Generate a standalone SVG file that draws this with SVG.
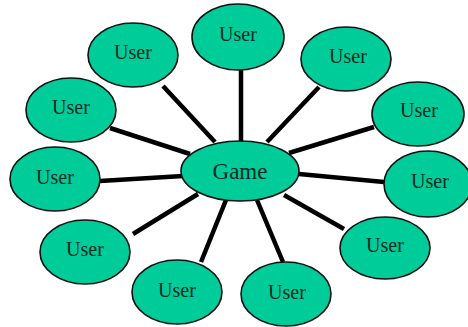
<svg xmlns="http://www.w3.org/2000/svg" width="468" height="327" viewBox="0 0 468 327">
<style>
.n ellipse{fill:#00cc99;stroke:#111;stroke-width:1.6}
.n text{font-family:"Liberation Serif","Times New Roman",serif;font-size:20px;fill:#0d2a22;text-anchor:middle}
#game text{font-size:23px}
#connectors line{stroke:#000;stroke-width:4.5;stroke-linecap:butt}
</style>
<rect width="468" height="327" fill="#fff"/>
<g id="connectors">
<line x1="163" y1="86" x2="215" y2="142"/>
<line x1="241" y1="70" x2="241" y2="141"/>
<line x1="319" y1="87" x2="267" y2="142"/>
<line x1="374" y1="127" x2="289" y2="153"/>
<line x1="384" y1="182" x2="299" y2="174"/>
<line x1="344" y1="229" x2="284" y2="195"/>
<line x1="283" y1="262" x2="257" y2="200"/>
<line x1="201" y1="262" x2="226" y2="200"/>
<line x1="133" y1="234" x2="198" y2="194"/>
<line x1="100" y1="181" x2="183" y2="176"/>
<line x1="110" y1="128" x2="190" y2="154"/>
</g>
<g id="user1" class="n"><ellipse cx="133" cy="55" rx="45" ry="32"/><text x="133" y="59">User</text></g>
<g id="user2" class="n"><ellipse cx="238" cy="37" rx="46" ry="33"/><text x="238" y="41">User</text></g>
<g id="user3" class="n"><ellipse cx="346" cy="59" rx="45" ry="32"/><text x="348" y="63">User</text></g>
<g id="user4" class="n"><ellipse cx="418" cy="114" rx="46" ry="32"/><text x="419" y="117">User</text></g>
<g id="user5" class="n"><ellipse cx="428" cy="184" rx="44" ry="33"/><text x="430" y="188">User</text></g>
<g id="user6" class="n"><ellipse cx="385" cy="248" rx="45" ry="31"/><text x="385" y="252">User</text></g>
<g id="user7" class="n"><ellipse cx="286" cy="294" rx="45" ry="32"/><text x="287" y="299">User</text></g>
<g id="user8" class="n"><ellipse cx="177" cy="292" rx="45" ry="32"/><text x="177" y="297">User</text></g>
<g id="user9" class="n"><ellipse cx="85" cy="252" rx="45" ry="32"/><text x="85" y="256">User</text></g>
<g id="user10" class="n"><ellipse cx="55" cy="179" rx="45" ry="32"/><text x="55" y="184">User</text></g>
<g id="user11" class="n"><ellipse cx="71" cy="110" rx="45" ry="32"/><text x="71" y="114">User</text></g>
<g id="game" class="n"><ellipse cx="240" cy="171" rx="59" ry="30"/><text x="240" y="179">Game</text></g>
</svg>
